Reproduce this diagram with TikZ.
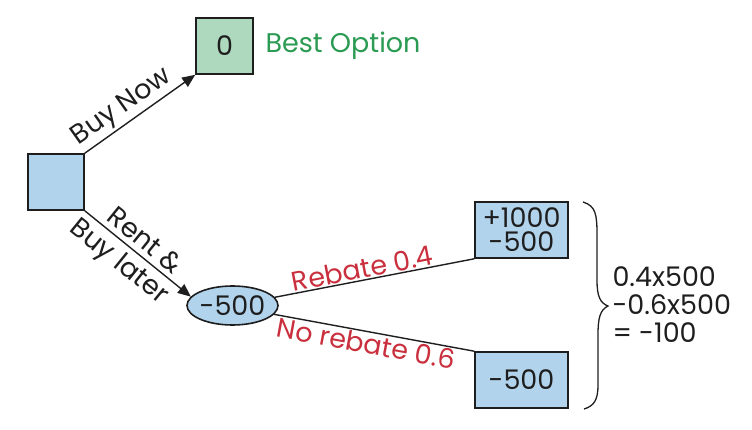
\documentclass[tikz,border=0pt]{standalone}
\usepackage{fontspec}
\setmainfont{Poppins}
\usetikzlibrary{arrows.meta,shapes.geometric}
\definecolor{boxblue}{HTML}{B2D3EC}
\definecolor{boxgreen}{HTML}{AED9BF}
\definecolor{txtgreen}{HTML}{2B9A52}
\definecolor{txtred}{HTML}{C92F3C}
\definecolor{ink}{HTML}{1E1E1E}
\begin{document}
\begin{tikzpicture}[x=1pt,y=-1pt,
  every node/.style={font=\fontsize{27}{24}\selectfont, text=ink},
  box/.style={draw=ink, line width=1.6pt, fill=boxblue, inner sep=0pt, align=center},
  conn/.style={draw=ink, line width=1.4pt},
  arr/.style={conn, -{Triangle[length=13pt,width=11pt]}},
  redlbl/.style={text=txtred, sloped, inner sep=1pt},
  blklbl/.style={sloped, inner sep=2pt}]
\useasboundingbox (0,0) rectangle (752,430);
\node[box, minimum width=56pt, minimum height=56pt] (root) at (56,182) {};
\node[box, fill=boxgreen, minimum width=57pt, minimum height=56pt] (best) at (224.5,46) {0};
\node[anchor=west, text=txtgreen] (bestlbl) at (262,46) {Best Option};
\node[box, ellipse, inner xsep=-3pt, minimum width=91pt, minimum height=39pt] (chance) at (232.5,305.5) {-500};
\node[box, minimum width=93pt, minimum height=56pt] (r1) at (521.5,230) {+1000\\-500};
\node[box, minimum width=93pt, minimum height=56pt] (r2) at (521.5,380) {-500};
\draw[arr] (root.north east) -- node[blklbl, above, pos=0.42] {Buy Now} (best.south west);
\draw[arr] (root.south east) -- node[blklbl, above, pos=0.48, inner sep=5pt] {Rent \&} node[blklbl, below, pos=0.43, inner sep=5pt] {Buy later} (chance.168);
\draw[conn] (chance.11) -- node[redlbl, above, pos=0.45] {Rebate 0.4} (r1.south west);
\draw[conn] (chance.-12) -- node[redlbl, below, pos=0.47] {No rebate 0.6} (r2.north west);
\node[anchor=west, align=left, font=\fontsize{27}{28}\selectfont] (calc) at (609,305) {0.4x500\\-0.6x500\\= -100};
\draw[ink, line width=1.3pt] (583,202) .. controls (596,206) and (597,215) .. (597,235) -- (597,280) .. controls (597,296) and (600,303) .. (608,306) .. controls (600,310) and (598,318) .. (598,335) -- (598,385) .. controls (598,400) and (594,406) .. (584,409);
\end{tikzpicture}
\end{document}
